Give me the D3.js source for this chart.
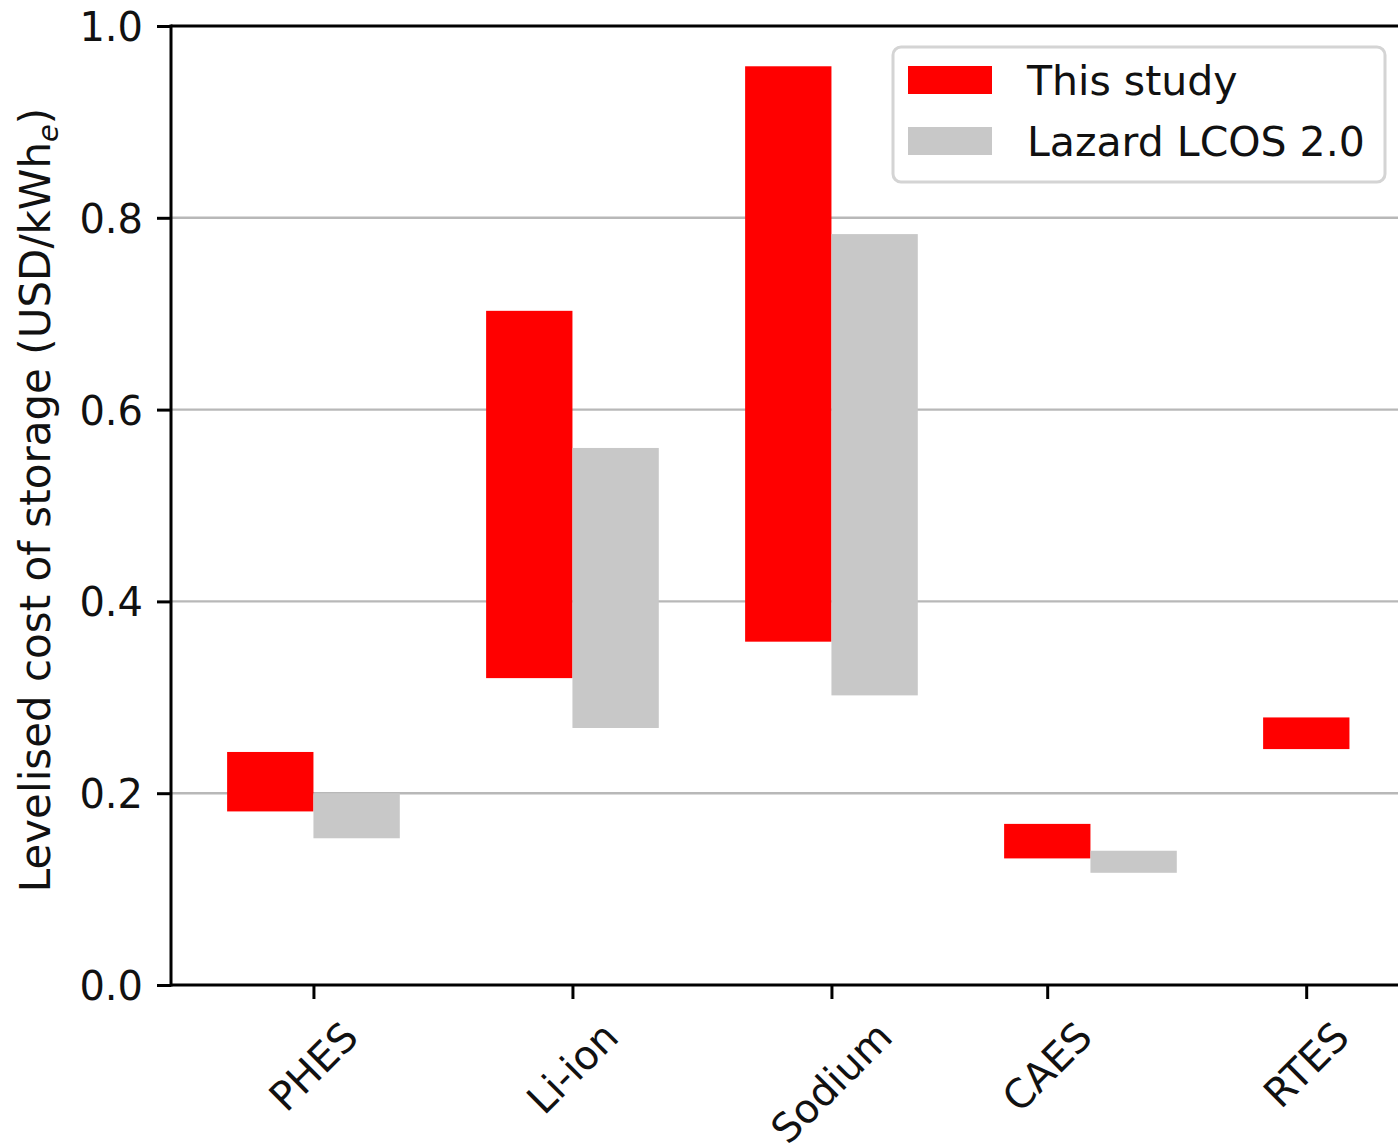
<!DOCTYPE html>
<html>
<head>
<meta charset="utf-8">
<script src="https://cdn.jsdelivr.net/npm/d3@7"></script>
<style>
  html, body { margin: 0; padding: 0; background: #fff; }
  svg { display: block; font-family: "DejaVu Sans", sans-serif; }
</style>
</head>
<body>
<svg id="chart" width="1398" height="1145"></svg>
<script>
// Levelised cost of storage ranges (USD/kWh_e) per technology
const categories = ["PHES", "Li-ion", "Sodium", "CAES", "RTES"];
const barSlots = [0, 1, 2, 3, 4];                 // group slot of each technology
const tickPositions = [0, 1, 2, 2.833, 3.833];    // where each category label sits
const thisStudyLow  = [0.181, 0.320, 0.358, 0.132, 0.246];
const thisStudyHigh = [0.243, 0.703, 0.958, 0.168, 0.279];
const lazardLow  = [0.153, 0.268, 0.302, 0.117, null];
const lazardHigh = [0.200, 0.560, 0.783, 0.140, null];
const yTicks = [0.0, 0.2, 0.4, 0.6, 0.8, 1.0];
const seriesNames = ["This study", "Lazard LCOS 2.0"];
const seriesColors = ["#ff0000", "#c8c8c8"];
const barWidth = 1 / 3;

const svg = d3.select("#chart");
const margin = { left: 171, top: 26, bottom: 985 };

const x = d3.scaleLinear().domain([-0.55, 4.25]).range([margin.left, margin.left + 4.8 * 259]);
const y = d3.scaleLinear().domain([0, 1]).range([margin.bottom, margin.top]);

// gridlines
svg.append("g")
  .selectAll("line")
  .data(yTicks.filter(d => d > 0 && d < 1))
  .join("line")
  .attr("x1", x.range()[0]).attr("x2", x.range()[1])
  .attr("y1", d => y(d)).attr("y2", d => y(d))
  .attr("stroke", "#b8b8b8").attr("stroke-width", 2.4);

// floating range bars
const series = [
  { low: thisStudyLow, high: thisStudyHigh, offset: -barWidth, color: seriesColors[0] },
  { low: lazardLow, high: lazardHigh, offset: 0, color: seriesColors[1] }
];
series.forEach(s => {
  const rows = categories.map((c, i) => ({ slot: barSlots[i], lo: s.low[i], hi: s.high[i] }))
    .filter(r => r.lo != null && r.hi != null);
  svg.append("g")
    .selectAll("rect")
    .data(rows)
    .join("rect")
    .attr("x", r => x(r.slot + s.offset))
    .attr("width", r => x(r.slot + s.offset + barWidth) - x(r.slot + s.offset))
    .attr("y", r => y(r.hi))
    .attr("height", r => y(r.lo) - y(r.hi))
    .attr("fill", s.color);
});

// y axis
const yAxis = svg.append("g")
  .attr("transform", `translate(${margin.left},0)`)
  .call(d3.axisLeft(y).tickValues(yTicks).tickFormat(d3.format(".1f")).tickSize(14).tickPadding(14));
yAxis.select(".domain").remove();
yAxis.selectAll(".tick line").attr("stroke", "#000").attr("stroke-width", 3);
yAxis.selectAll(".tick text").attr("font-size", 40).attr("fill", "#111")
  .attr("font-family", "DejaVu Sans").attr("dy", "0.36em");

// x axis ticks
const xAxis = svg.append("g")
  .attr("transform", `translate(0,${margin.bottom})`)
  .call(d3.axisBottom(x).tickValues(tickPositions).tickFormat("").tickSize(14));
xAxis.select(".domain").remove();
xAxis.selectAll(".tick line").attr("stroke", "#000").attr("stroke-width", 3);

// rotated category labels, bounding box centred under each tick
const labelTop = margin.bottom + 28;
const labelSize = 40;
const labels = svg.append("g").selectAll("text")
  .data(categories.map((c, i) => ({ name: c, pos: tickPositions[i] })))
  .join("text")
  .attr("font-size", labelSize)
  .attr("fill", "#111")
  .attr("text-anchor", "middle")
  .attr("dominant-baseline", "central")
  .text(d => d.name);
labels.each(function(d) {
  const L = this.getComputedTextLength();
  const h = labelSize * 1.16;
  const w = (L + h) / Math.SQRT2;
  const cx = x(d.pos), cy = labelTop + w / 2;
  d3.select(this).attr("x", cx).attr("y", cy)
    .attr("transform", `rotate(-45,${cx},${cy})`);
});

// spines: left, top, bottom
const spine = svg.append("g").attr("stroke", "#000").attr("stroke-width", 3).attr("fill", "none");
spine.append("line").attr("x1", margin.left).attr("x2", margin.left)
  .attr("y1", y(1) - 1.5).attr("y2", y(0) + 1.5);
spine.append("line").attr("x1", margin.left).attr("x2", x.range()[1])
  .attr("y1", y(1)).attr("y2", y(1));
spine.append("line").attr("x1", margin.left).attr("x2", x.range()[1])
  .attr("y1", y(0)).attr("y2", y(0));

// y axis title
const yTitle = svg.append("text")
  .attr("transform", `translate(50,${(110 + 890) / 2}) rotate(-90)`)
  .attr("text-anchor", "middle")
  .attr("font-size", 42)
  .attr("fill", "#111");
yTitle.append("tspan").text("Levelised cost of storage (USD/kWh");
yTitle.append("tspan").attr("font-size", 29).attr("font-style", "italic").attr("dy", 8).text("e");
yTitle.append("tspan").attr("dy", -8).text(")");

// legend
const legend = svg.append("g");
legend.append("rect")
  .attr("x", 893).attr("y", 47).attr("width", 492).attr("height", 135)
  .attr("rx", 8).attr("fill", "#fff").attr("fill-opacity", 0.8)
  .attr("stroke", "#d4d4d4").attr("stroke-width", 3);
const legendRows = legend.selectAll("g.item")
  .data(seriesNames.map((n, i) => ({ name: n, color: seriesColors[i], i })))
  .join("g")
  .attr("class", "item")
  .attr("transform", d => `translate(0,${d.i * 61})`);
legendRows.append("rect")
  .attr("x", 908).attr("y", 66).attr("width", 84).attr("height", 28)
  .attr("fill", d => d.color);
legendRows.append("text")
  .attr("x", 1027).attr("y", 95)
  .attr("font-size", 41).attr("fill", "#111")
  .text(d => d.name);
</script>
</body>
</html>
